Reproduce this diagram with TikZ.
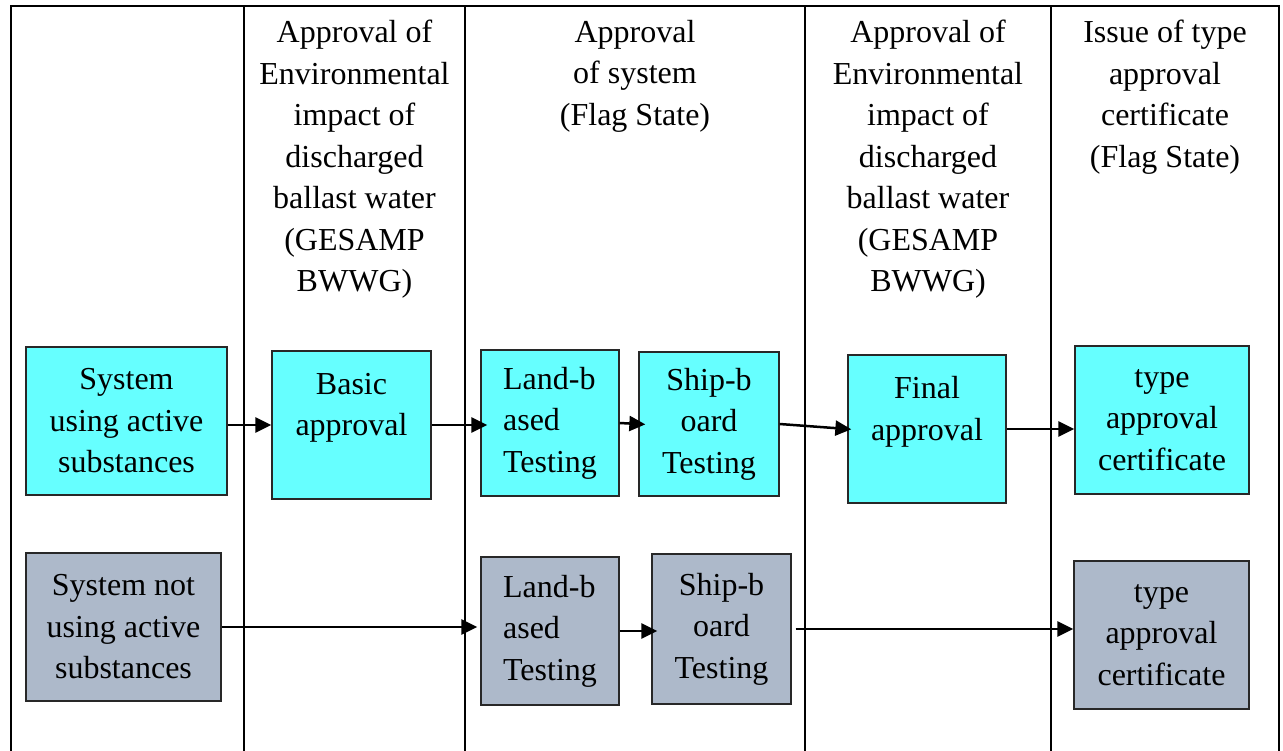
\documentclass[tikz,border=0pt]{standalone}
\usepackage{fontspec}
\setmainfont{Liberation Serif}
\usetikzlibrary{arrows.meta}
\definecolor{boxcyan}{RGB}{102,255,255}
\definecolor{boxgray}{RGB}{173,185,202}
\definecolor{boxline}{RGB}{40,40,40}

\tikzset{
  bigfont/.style={font=\fontsize{32}{41.5}\selectfont},
  head/.style={bigfont, anchor=north, inner sep=0pt, align=center},
  boxsize/.style 2 args={minimum width=#1pt, minimum height=#2pt},
  stage/.style={bigfont, draw=boxline, line width=1.3pt, inner sep=0pt, align=center},
  active/.style={stage, fill=boxcyan},
  passive/.style={stage, fill=boxgray},
  flow/.style={line width=2.5pt, -{Triangle[length=16pt,width=15pt]}},
  grid/.style={line width=2pt}
}

\begin{document}
\begin{tikzpicture}[x=1pt,y=-1pt]
  \useasboundingbox (0,0) rectangle (1283,751);
  % table frame
  \draw[grid] (10,6) -- (1280,6);
  \foreach \x in {11,244,465,805,1051,1279}
    \draw[grid] (\x,6) -- (\x,751);
  % column headings
  \node[head] (h1) at (354.5,20) {Approval of\\Environmental\\impact of\\discharged\\ballast water\\(GESAMP\\BWWG)};
  \node[head] (h2) at (635,20) {Approval\\of system\\(Flag State)};
  \node[head] (h3) at (928,20) {Approval of\\Environmental\\impact of\\discharged\\ballast water\\(GESAMP\\BWWG)};
  \node[head] (h4) at (1165,20) {Issue of type\\approval\\certificate\\(Flag State)};
  % upper row: system using active substances
  \node[active, boxsize={201}{148}] (sys1) at (126.5,421) {System\\using active\\substances};
  \node[active, boxsize={159}{148}] (basic) at (351.5,425) {Basic\\approval\\~};
  \node[active, boxsize={138}{146}, align=left] (land1) at (550,423) {Land-b\\ased\\Testing};
  \node[active, boxsize={140}{144}] (ship1) at (709,424) {Ship-b\\oard\\Testing};
  \node[active, boxsize={158}{148}] (final) at (927,429) {Final\\approval\\~};
  \node[active, boxsize={174}{148}] (type1) at (1162,420) {type\\approval\\certificate};
  % lower row: system not using active substances
  \node[passive, boxsize={195}{148}] (sys2) at (123.5,627) {System not\\using active\\substances};
  \node[passive, boxsize={138}{148}, align=left] (land2) at (550,631) {Land-b\\ased\\Testing};
  \node[passive, boxsize={139}{150}] (ship2) at (721.5,629) {Ship-b\\oard\\Testing};
  \node[passive, boxsize={175}{148}] (type2) at (1161.5,635) {type\\approval\\certificate};
  % arrows, upper row
  \draw[flow] (sys1.east |- basic.west) -- (basic.west);
  \draw[flow, shorten >=-7pt] (basic.east) -- (basic.east -| land1.west);
  \draw[flow, shorten >=-7pt] (land1.east) -- (ship1.west);
  \draw[flow, shorten >=-4pt] (ship1.east) -- (final.west);
  \draw[flow] (final.east) -- (final.east -| type1.west);
  % arrows, lower row
  \draw[flow, shorten >=3pt] (sys2.east) -- (sys2.east -| land2.west);
  \draw[flow, shorten >=-6pt] (land2.east) -- (land2.east -| ship2.west);
  \draw[flow, shorten <=4pt] (ship2.east) -- (ship2.east -| type2.west);
\end{tikzpicture}
\end{document}
